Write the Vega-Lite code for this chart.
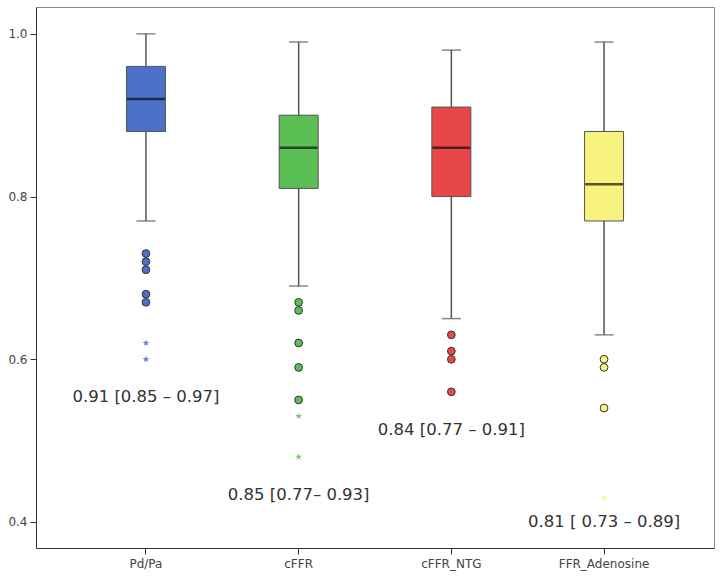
{
  "$schema": "https://vega.github.io/schema/vega-lite/v6.json",
  "autosize": "none",
  "width": 678,
  "height": 541,
  "padding": {"left": 36, "top": 7, "right": 6, "bottom": 28},
  "background": "white",
  "config": {
    "view": {"stroke": "#8a8a8a", "strokeWidth": 1},
    "font": "DejaVu Sans"
  },
  "datasets": {
    "boxes": [
      {"cat": "Pd/Pa", "lower": 0.77, "q1": 0.88, "median": 0.92, "q3": 0.96, "upper": 1.0},
      {"cat": "cFFR", "lower": 0.69, "q1": 0.81, "median": 0.86, "q3": 0.90, "upper": 0.99},
      {"cat": "cFFR_NTG", "lower": 0.65, "q1": 0.80, "median": 0.86, "q3": 0.91, "upper": 0.98},
      {"cat": "FFR_Adenosine", "lower": 0.63, "q1": 0.77, "median": 0.815, "q3": 0.88, "upper": 0.99}
    ],
    "outliers": [
      {"cat": "Pd/Pa", "value": 0.73, "kind": "circle"},
      {"cat": "Pd/Pa", "value": 0.72, "kind": "circle"},
      {"cat": "Pd/Pa", "value": 0.71, "kind": "circle"},
      {"cat": "Pd/Pa", "value": 0.68, "kind": "circle"},
      {"cat": "Pd/Pa", "value": 0.67, "kind": "circle"},
      {"cat": "Pd/Pa", "value": 0.62, "kind": "star"},
      {"cat": "Pd/Pa", "value": 0.60, "kind": "star"},
      {"cat": "cFFR", "value": 0.67, "kind": "circle"},
      {"cat": "cFFR", "value": 0.66, "kind": "circle"},
      {"cat": "cFFR", "value": 0.62, "kind": "circle"},
      {"cat": "cFFR", "value": 0.59, "kind": "circle"},
      {"cat": "cFFR", "value": 0.55, "kind": "circle"},
      {"cat": "cFFR", "value": 0.53, "kind": "star"},
      {"cat": "cFFR", "value": 0.48, "kind": "star"},
      {"cat": "cFFR_NTG", "value": 0.63, "kind": "circle"},
      {"cat": "cFFR_NTG", "value": 0.61, "kind": "circle"},
      {"cat": "cFFR_NTG", "value": 0.60, "kind": "circle"},
      {"cat": "cFFR_NTG", "value": 0.56, "kind": "circle"},
      {"cat": "FFR_Adenosine", "value": 0.60, "kind": "circle"},
      {"cat": "FFR_Adenosine", "value": 0.59, "kind": "circle"},
      {"cat": "FFR_Adenosine", "value": 0.54, "kind": "circle"},
      {"cat": "FFR_Adenosine", "value": 0.43, "kind": "star"}
    ],
    "labels": [
      {"cat": "Pd/Pa", "y": 0.553, "text": "0.91 [0.85 – 0.97]"},
      {"cat": "cFFR", "y": 0.433, "text": "0.85 [0.77– 0.93]"},
      {"cat": "cFFR_NTG", "y": 0.513, "text": "0.84 [0.77 – 0.91]"},
      {"cat": "FFR_Adenosine", "y": 0.40, "text": "0.81 [ 0.73 – 0.89]"}
    ]
  },
  "encoding": {
    "x": {
      "field": "cat", "type": "nominal",
      "sort": ["Pd/Pa", "cFFR", "cFFR_NTG", "FFR_Adenosine"],
      "scale": {"type": "band", "paddingInner": 0, "paddingOuter": 0.22},
      "axis": {
        "title": null, "labelAngle": 0, "labelFontSize": 12, "labelColor": "#444",
        "domainColor": "#333", "tickColor": "#333", "tickSize": 6, "labelPadding": 4,
        "bandPosition": 0.5, "grid": false
      }
    }
  },
  "layer": [
    {
      "data": {"name": "boxes"},
      "mark": {"type": "rule", "color": "#555", "strokeWidth": 1.5},
      "encoding": {
        "y": {
          "field": "lower", "type": "quantitative",
          "scale": {"domain": [0.368, 1.033], "nice": false, "zero": false},
          "axis": {
            "title": null, "values": [0.4, 0.6, 0.8, 1.0], "format": ".1f",
            "labelFontSize": 12, "labelColor": "#444", "domainColor": "#333",
            "tickColor": "#333", "tickSize": 6, "grid": false, "labelPadding": 3
          }
        },
        "y2": {"field": "upper"}
      }
    },
    {
      "data": {"name": "boxes"},
      "mark": {"type": "tick", "color": "#555", "thickness": 1.5, "size": 19, "orient": "horizontal"},
      "encoding": {"y": {"field": "upper", "type": "quantitative"}}
    },
    {
      "data": {"name": "boxes"},
      "mark": {"type": "tick", "color": "#555", "thickness": 1.5, "size": 19, "orient": "horizontal"},
      "encoding": {"y": {"field": "lower", "type": "quantitative"}}
    },
    {
      "data": {"name": "boxes"},
      "mark": {"type": "bar", "size": 39, "stroke": "#555", "strokeWidth": 1},
      "encoding": {
        "y": {"field": "q1", "type": "quantitative"},
        "y2": {"field": "q3"},
        "color": {
          "field": "cat", "type": "nominal",
          "scale": {"domain": ["Pd/Pa", "cFFR", "cFFR_NTG", "FFR_Adenosine"], "range": ["#4a70c7", "#5cbf55", "#e8474a", "#f8f37f"]},
          "legend": null
        }
      }
    },
    {
      "data": {"name": "boxes"},
      "mark": {"type": "tick", "color": "#111", "thickness": 2.5, "size": 38, "orient": "horizontal"},
      "encoding": {"y": {"field": "median", "type": "quantitative"}}
    },
    {
      "data": {"name": "outliers"},
      "transform": [{"filter": "datum.kind === 'circle'"}],
      "mark": {"type": "point", "shape": "circle", "filled": true, "size": 60, "stroke": "#333", "strokeWidth": 1, "opacity": 1},
      "encoding": {
        "y": {"field": "value", "type": "quantitative"},
        "color": {"field": "cat", "type": "nominal", "legend": null}
      }
    },
    {
      "data": {"name": "outliers"},
      "transform": [{"filter": "datum.kind === 'star'"}],
      "mark": {"type": "point", "shape": "M0,-1L0.24,-0.33L0.95,-0.31L0.39,0.12L0.59,0.81L0,0.4L-0.59,0.81L-0.39,0.12L-0.95,-0.31L-0.24,-0.33Z", "filled": true, "size": 50, "opacity": 0.85},
      "encoding": {
        "y": {"field": "value", "type": "quantitative"},
        "color": {"field": "cat", "type": "nominal", "legend": null}
      }
    },
    {
      "data": {"name": "labels"},
      "mark": {"type": "text", "fontSize": 16.5, "color": "#333", "align": "center", "baseline": "middle"},
      "encoding": {
        "y": {"field": "y", "type": "quantitative"},
        "text": {"field": "text"}
      }
    }
  ]
}
